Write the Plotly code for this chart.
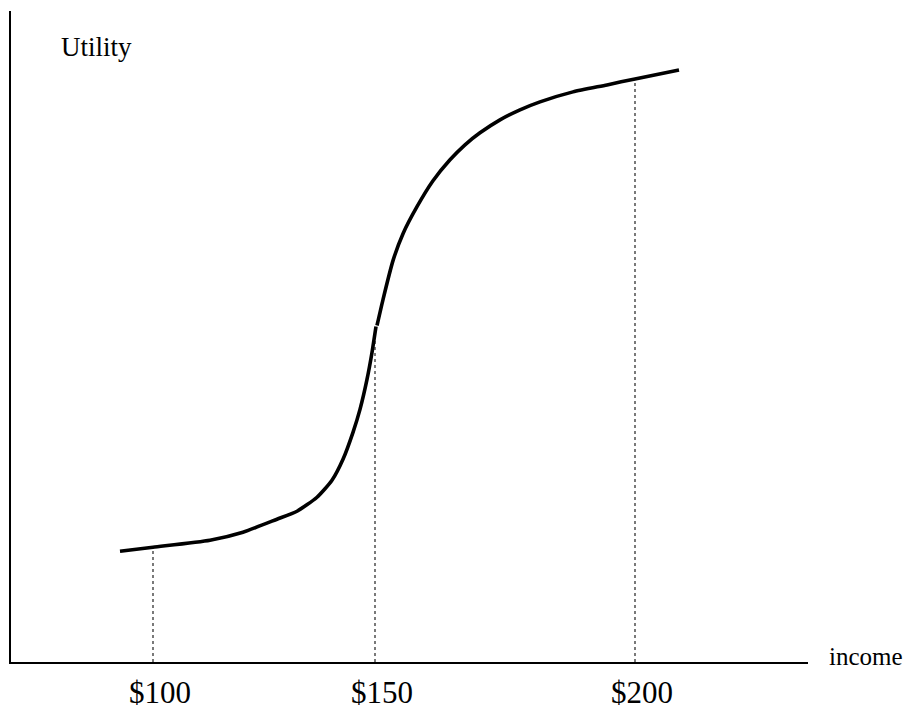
import numpy as np
import plotly.graph_objects as go

# Utility curve (two hand-drawn pieces), x in drawing units along the income axis, y = utility units
lower_x = [109, 142, 199, 232, 266, 286, 306, 321, 332, 342, 349, 356, 361, 365]
lower_y = [111, 115, 122, 130, 143, 151, 165, 182, 203, 230, 253, 283, 310, 336]
upper_x = [366, 372, 382, 392, 406, 422, 439, 454, 469, 489, 509, 529, 562, 596, 624, 668]
upper_y = [337, 363, 402, 429, 456, 482, 503, 518, 530, 543, 553, 561, 571, 578, 584, 593]

tick_pos = [142, 364, 624]
tick_labels = ["$100", "$150", "$200"]

all_x = np.array(lower_x + upper_x, dtype=float)
all_y = np.array(lower_y + upper_y, dtype=float)
order = np.argsort(all_x, kind="stable")
guide_y = np.interp(tick_pos, all_x[order], all_y[order])

FONT = "Liberation Serif"
fig = go.Figure()

for tx, ty in zip(tick_pos, guide_y):
    fig.add_trace(go.Scatter(x=[tx, tx], y=[0, ty], mode="lines",
                             line=dict(color="#222222", width=1.2, dash="dot"),
                             hoverinfo="skip", showlegend=False))

for xs, ys in ((lower_x, lower_y), (upper_x, upper_y)):
    fig.add_trace(go.Scatter(x=xs, y=ys, mode="lines",
                             line=dict(color="black", width=3.6, shape="spline", smoothing=0.6),
                             showlegend=False))

fig.update_layout(
    width=904, height=705,
    margin=dict(l=3, r=104, t=3, b=44),
    paper_bgcolor="white", plot_bgcolor="white",
    font=dict(family=FONT, color="black"),
    xaxis=dict(range=[0, 797], showgrid=False, zeroline=False,
               showline=True, linecolor="black", linewidth=2,
               tickmode="array", tickvals=tick_pos, ticktext=tick_labels,
               ticks="", tickfont=dict(family=FONT, size=31, color="black"),
               ticklabelshift=7, ticklabelstandoff=2),
    yaxis=dict(range=[0, 652], showgrid=False, zeroline=False,
               showline=True, linecolor="black", linewidth=2,
               showticklabels=False, ticks=""),
    annotations=[
        dict(text="Utility", xref="paper", yref="paper", x=0.1079, y=0.945,
             xanchor="center", yanchor="middle", showarrow=False,
             font=dict(family=FONT, size=27, color="black")),
        dict(text="income", xref="paper", yref="paper", x=1.0728, y=0.0084,
             xanchor="center", yanchor="middle", showarrow=False,
             font=dict(family=FONT, size=25, color="black")),
    ],
)

fig.write_html("out.html")
